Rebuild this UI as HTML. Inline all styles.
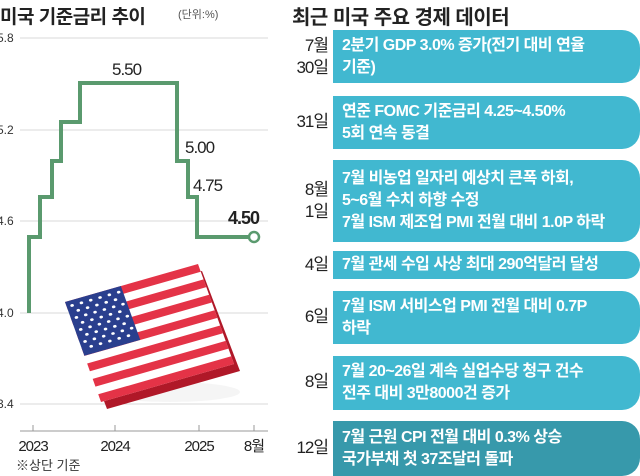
<!DOCTYPE html>
<html><head><meta charset="utf-8"><style>
body{margin:0;width:640px;height:476px;background:#fff;position:relative;overflow:hidden;font-family:"Liberation Sans","Noto Sans CJK KR",sans-serif;}
.t{position:absolute;white-space:nowrap;}
.box{position:absolute;left:333px;width:307px;background:#41b8d0;border-radius:0 18px 18px 0;color:#fff;font-weight:bold;font-size:16px;line-height:22px;padding-left:9px;box-sizing:border-box;display:flex;flex-direction:column;justify-content:center;letter-spacing:-0.5px;white-space:nowrap;}
.d{position:absolute;right:312px;text-align:right;font-size:17px;line-height:22px;color:#222;letter-spacing:-1px;}
</style></head><body>
<div class="t" style="left:0;top:2px;font-size:19px;font-weight:bold;color:#222;letter-spacing:-0.5px">미국 기준금리 추이</div>
<div class="t" style="left:178px;top:6px;font-size:11px;color:#555">(단위:%)</div>
<svg width="290" height="476" style="position:absolute;left:0;top:0">
<g stroke="#d8d8d8" stroke-width="1">
<line x1="20" y1="38" x2="268" y2="38"/><line x1="20" y1="130" x2="268" y2="130"/><line x1="20" y1="221" x2="268" y2="221"/><line x1="20" y1="313" x2="268" y2="313"/><line x1="20" y1="404" x2="268" y2="404"/>
</g>
<g font-size="12" fill="#333" font-family="Liberation Sans, sans-serif">
<text x="-3" y="42">5.8</text><text x="-3" y="134">5.2</text><text x="-3" y="225">4.6</text><text x="-3" y="317">4.0</text><text x="-3" y="408">3.4</text>
</g>
<line x1="20" y1="431" x2="268" y2="431" stroke="#999"/>
<g stroke="#999"><line x1="33" y1="425" x2="33" y2="431"/><line x1="115" y1="425" x2="115" y2="431"/><line x1="199" y1="425" x2="199" y2="431"/><line x1="254" y1="425" x2="254" y2="431"/></g>
<g font-size="15" fill="#222" font-family="Liberation Sans, Noto Sans CJK KR, sans-serif" text-anchor="middle" letter-spacing="-1">
<text x="33" y="451">2023</text><text x="115" y="451">2024</text><text x="199" y="451">2025</text><text x="254" y="451">8월</text>
</g>
<text x="16" y="470" font-size="13" fill="#333" font-family="Liberation Sans, Noto Sans CJK KR, sans-serif">※상단 기준</text>
<!-- flag -->
<ellipse cx="170" cy="392" rx="70" ry="10" fill="#000" opacity="0.04"/>
<g transform="matrix(1.33,-0.38,0.38,1.0,69,309)">
<rect x="0" y="0" width="100" height="100" fill="#b01828"/>
</g>
<g transform="matrix(1.33,-0.38,0.36,1.0,65,302)">
<rect x="0" y="0" width="100" height="100" fill="#fff"/>
<g fill="#e43347">
<rect y="0" width="100" height="7.7"/><rect y="15.4" width="100" height="7.7"/><rect y="30.8" width="100" height="7.7"/><rect y="46.2" width="100" height="7.7"/><rect y="61.5" width="100" height="7.7"/><rect y="76.9" width="100" height="7.7"/><rect y="92.3" width="100" height="7.7"/>
</g>
<rect x="0" y="0" width="42" height="53.8" fill="#2a3f8e"/>
<g fill="#fff">
<circle cx="4" cy="5" r="1.3"/><circle cx="11" cy="5" r="1.3"/><circle cx="18" cy="5" r="1.3"/><circle cx="25" cy="5" r="1.3"/><circle cx="32" cy="5" r="1.3"/><circle cx="39" cy="5" r="1.3"/>
<circle cx="7" cy="11" r="1.3"/><circle cx="14" cy="11" r="1.3"/><circle cx="21" cy="11" r="1.3"/><circle cx="28" cy="11" r="1.3"/><circle cx="35" cy="11" r="1.3"/>
<circle cx="4" cy="17" r="1.3"/><circle cx="11" cy="17" r="1.3"/><circle cx="18" cy="17" r="1.3"/><circle cx="25" cy="17" r="1.3"/><circle cx="32" cy="17" r="1.3"/><circle cx="39" cy="17" r="1.3"/>
<circle cx="7" cy="23" r="1.3"/><circle cx="14" cy="23" r="1.3"/><circle cx="21" cy="23" r="1.3"/><circle cx="28" cy="23" r="1.3"/><circle cx="35" cy="23" r="1.3"/>
<circle cx="4" cy="29" r="1.3"/><circle cx="11" cy="29" r="1.3"/><circle cx="18" cy="29" r="1.3"/><circle cx="25" cy="29" r="1.3"/><circle cx="32" cy="29" r="1.3"/><circle cx="39" cy="29" r="1.3"/>
<circle cx="7" cy="35" r="1.3"/><circle cx="14" cy="35" r="1.3"/><circle cx="21" cy="35" r="1.3"/><circle cx="28" cy="35" r="1.3"/><circle cx="35" cy="35" r="1.3"/>
<circle cx="4" cy="41" r="1.3"/><circle cx="11" cy="41" r="1.3"/><circle cx="18" cy="41" r="1.3"/><circle cx="25" cy="41" r="1.3"/><circle cx="32" cy="41" r="1.3"/><circle cx="39" cy="41" r="1.3"/>
<circle cx="7" cy="47" r="1.3"/><circle cx="14" cy="47" r="1.3"/><circle cx="21" cy="47" r="1.3"/><circle cx="28" cy="47" r="1.3"/><circle cx="35" cy="47" r="1.3"/>
</g>
</g>
<!-- line -->
<polyline fill="none" stroke="#5a9a6e" stroke-width="4" points="29,313 29,237 40,237 40,197 52,197 52,161 61,161 61,122 80,122 80,83 177,83 177,161 188,161 188,197 197,197 197,237 254,237"/>
<circle cx="254" cy="237" r="5" fill="#fff" stroke="#5a9a6e" stroke-width="2.5"/>
<g font-size="17" fill="#222" font-family="Liberation Sans, sans-serif" letter-spacing="-1">
<text x="112" y="75">5.50</text><text x="185" y="153">5.00</text><text x="193" y="191">4.75</text>
<text x="228" y="224" font-weight="bold" font-size="18">4.50</text>
</g>
</svg>

<div class="t" style="left:292px;top:1px;font-size:20px;font-weight:bold;color:#222;letter-spacing:-0.5px">최근 미국 주요 경제 데이터</div>

<div class="d" style="top:35px">7월<br>30일</div>
<div class="box" style="top:30px;height:53px">2분기 GDP 3.0% 증가(전기 대비 연율<br>기준)</div>
<div class="d" style="top:111px">31일</div>
<div class="box" style="top:96px;height:53px">연준 FOMC 기준금리 4.25~4.50%<br>5회 연속 동결</div>
<div class="d" style="top:179px">8월<br>1일</div>
<div class="box" style="top:160px;height:82px">7월 비농업 일자리 예상치 큰폭 하회,<br>5~6월 수치 하향 수정<br>7월 ISM 제조업 PMI 전월 대비 1.0P 하락</div>
<div class="d" style="top:254px">4일</div>
<div class="box" style="top:251px;height:28px">7월 관세 수입 사상 최대 290억달러 달성</div>
<div class="d" style="top:306px">6일</div>
<div class="box" style="top:291px;height:53px">7월 ISM 서비스업 PMI 전월 대비 0.7P<br>하락</div>
<div class="d" style="top:371px">8일</div>
<div class="box" style="top:356px;height:54px">7월 20~26일 계속 실업수당 청구 건수<br>전주 대비 3만8000건 증가</div>
<div class="d" style="top:437px">12일</div>
<div class="box" style="top:421px;height:55px;background:#3799ab">7월 근원 CPI 전월 대비 0.3% 상승<br>국가부채 첫 37조달러 돌파</div>
</body></html>
